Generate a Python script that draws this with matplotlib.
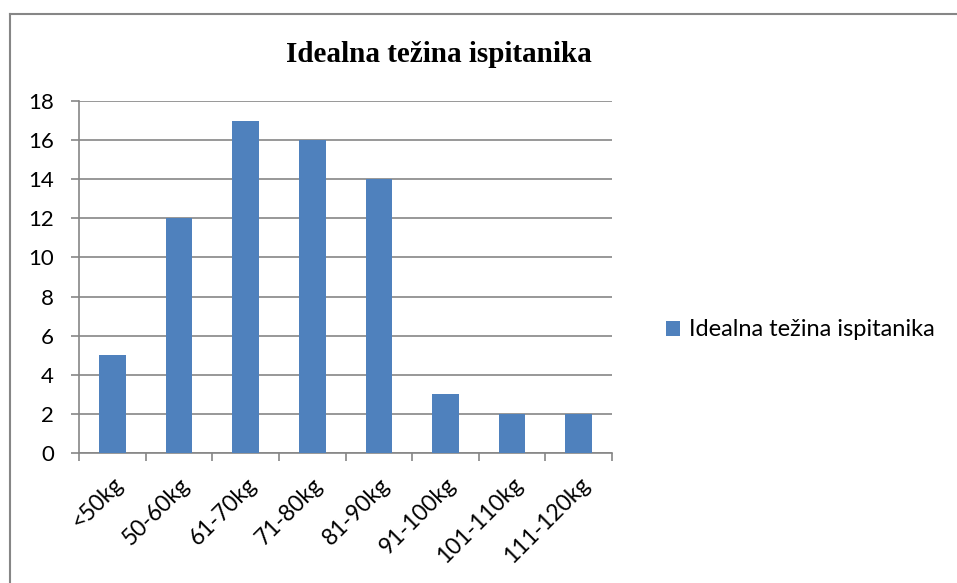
import matplotlib.pyplot as plt
from matplotlib.lines import Line2D
from matplotlib.patches import Patch
from matplotlib.transforms import ScaledTranslation

# data
categories = ['<50kg', '50-60kg', '61-70kg', '71-80kg', '81-90kg',
              '91-100kg', '101-110kg', '111-120kg']
counts = [5, 12, 17, 16, 14, 3, 2, 2]
y_ticks = [0, 2, 4, 6, 8, 10, 12, 14, 16, 18]
title = 'Idealna težina ispitanika'

BAR_COLOR = '#4F81BD'
GRID_COLOR = '#868686'
FONT = ['Lato', 'DejaVu Sans']
FS = 16

fig = plt.figure(figsize=(9.57, 5.83), dpi=100)
ax = fig.add_axes([0.0826, 0.2230, 0.5570, 0.6038])

x = range(len(categories))
ax.bar(x, counts, width=0.4, color=BAR_COLOR, zorder=3)

ax.set_xlim(-0.5, len(categories) - 0.5)
ax.set_ylim(0, 18)
ax.set_yticks(y_ticks)
ax.set_yticklabels([str(v) for v in y_ticks], fontsize=FS, family=FONT)
ax.yaxis.grid(True, color=GRID_COLOR, linewidth=1.2, zorder=0)

# category boundary ticks, labels on minor ticks at bar centres
ax.set_xticks([i - 0.5 for i in range(len(categories) + 1)])
ax.set_xticklabels([])
ax.set_xticks(list(x), minor=True)
ax.set_xticklabels(categories, minor=True, rotation=45, ha='right',
                   rotation_mode='anchor', fontsize=16.5, family=FONT)
shift = ScaledTranslation(4 / 100, 0, fig.dpi_scale_trans)
for lbl in ax.get_xticklabels(minor=True):
    lbl.set_transform(lbl.get_transform() + shift)
ax.tick_params(axis='x', which='minor', length=0, pad=15)
ax.tick_params(axis='x', which='major', length=6, width=1.2, color=GRID_COLOR)
ax.tick_params(axis='y', length=6, width=1.2, color=GRID_COLOR, pad=12)

for side in ['top', 'right']:
    ax.spines[side].set_visible(False)
for side in ['left', 'bottom']:
    ax.spines[side].set_color(GRID_COLOR)
    ax.spines[side].set_linewidth(1.2)

fig.text(438.5 / 957, 1 - 62 / 583, title, ha='center', va='baseline',
         fontsize=21, fontweight='bold', family='Liberation Serif')

fig.legend(handles=[Patch(facecolor=BAR_COLOR, label=title)],
           loc='center right', bbox_to_anchor=(935 / 957, 1 - 330 / 583),
           frameon=False, prop={'family': FONT, 'size': 17},
           handlelength=0.6, handleheight=0.6, handletextpad=0.4,
           borderpad=0, borderaxespad=0)

# outer chart border (left and top only visible)
fig.add_artist(Line2D([10 / 957, 10 / 957], [0, 1 - 14 / 583],
                      color=GRID_COLOR, linewidth=1.5))
fig.add_artist(Line2D([10 / 957, 1], [1 - 14 / 583, 1 - 14 / 583],
                      color=GRID_COLOR, linewidth=1.5))

fig.savefig('out.png', dpi=100, facecolor='white')
